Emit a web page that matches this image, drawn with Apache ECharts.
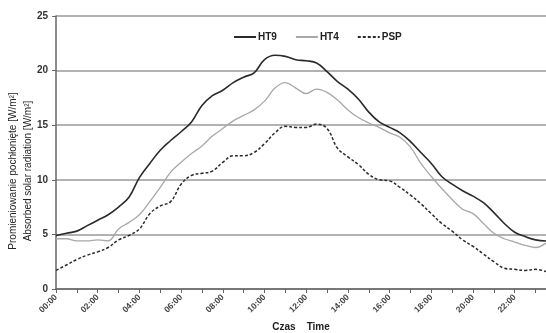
<!DOCTYPE html>
<html>
<head>
<meta charset="utf-8">
<script src="https://cdn.jsdelivr.net/npm/echarts@6/dist/echarts.min.js"></script>
<style>
  html, body { margin: 0; padding: 0; background: #fff; }
  #chart { width: 546px; height: 333px; }
</style>
</head>
<body>
<div id="chart"></div>
<script>
// half-hour steps, 00:00 .. 23:30
const times = [];
for (let i = 0; i < 48; i++) {
  const h = Math.floor(i / 2);
  times.push(String(h).padStart(2, "0") + (i % 2 ? ":30" : ":00"));
}

const ht9 = [
  4.9, 5.1, 5.3, 5.8, 6.3, 6.8, 7.5, 8.4, 10.2, 11.5, 12.7, 13.6,
  14.4, 15.3, 16.8, 17.7, 18.2, 18.9, 19.4, 19.8, 21.0, 21.4, 21.3, 21.0,
  20.9, 20.7, 19.9, 19.0, 18.3, 17.4, 16.2, 15.3, 14.8, 14.3, 13.5, 12.5,
  11.5, 10.3, 9.6, 9.0, 8.5, 7.9, 7.0, 6.0, 5.2, 4.8, 4.5, 4.4,
];
const ht4 = [
  4.6, 4.6, 4.4, 4.4, 4.5, 4.4, 5.5, 6.1, 6.8, 8.0, 9.3, 10.7,
  11.6, 12.4, 13.1, 14.0, 14.7, 15.4, 15.9, 16.4, 17.2, 18.4, 18.9, 18.4,
  17.9, 18.3, 18.0, 17.3, 16.4, 15.7, 15.2, 14.8, 14.3, 13.9, 13.0, 11.5,
  10.3, 9.2, 8.2, 7.3, 6.9, 6.0, 5.1, 4.6, 4.3, 4.0, 3.8, 4.2,
];
const psp = [
  1.7, 2.2, 2.7, 3.1, 3.4, 3.8, 4.5, 4.9, 5.5, 6.9, 7.6, 8.0,
  9.6, 10.4, 10.6, 10.8, 11.6, 12.2, 12.2, 12.5, 13.3, 14.3, 14.9, 14.8,
  14.8, 15.1, 14.7, 12.9, 12.1, 11.4, 10.5, 10.0, 9.9, 9.3, 8.6, 7.8,
  6.9, 6.0, 5.3, 4.5, 3.9, 3.2, 2.5, 1.9, 1.8, 1.7, 1.8, 1.6,
];

const yTitlePl = "Promieniowanie pochłonięte [W/m²]";
const yTitleEn = "Absorbed solar radiation [W/m²]";

const font = "'Liberation Sans', Arial, sans-serif";
const chart = echarts.init(document.getElementById("chart"));

const line = (name, data, color, width, type) => ({
  name,
  type: "line",
  data,
  smooth: 0.4,
  symbol: "none",
  lineStyle: { color, width, type },
  itemStyle: { color },
});

// vertical axis title, two lines rotated
const yTitle = (text, x) => ({
  type: "text",
  x,
  y: 171,
  rotation: Math.PI / 2,
  style: {
    text,
    font: "10px " + font,
    fill: "#222",
    align: "center",
    verticalAlign: "middle",
  },
});

chart.setOption({
  animation: false,
  textStyle: { fontFamily: font },
  grid: { left: 56, right: 0, top: 16, bottom: 44, outerBoundsMode: "none" },
  legend: {
    top: 27,
    left: 228,
    itemWidth: 22,
    itemHeight: 10,
    itemGap: 18,
    itemStyle: { opacity: 0 },
    textStyle: { fontFamily: font, fontSize: 10, fontWeight: "bold", color: "#222", padding: [0, 0, 0, -3] },
    data: ["HT9", "HT4", "PSP"],
  },
  graphic: [yTitle(yTitlePl, 13), yTitle(yTitleEn, 28)],
  xAxis: {
    type: "category",
    data: times,
    boundaryGap: false,
    name: "Czas    Time",
    nameLocation: "middle",
    nameGap: 33,
    nameTextStyle: { fontFamily: font, fontSize: 10, fontWeight: "bold", color: "#222" },
    axisLine: { lineStyle: { color: "#666", width: 1.5 } },
    axisTick: { interval: 1, length: 4, lineStyle: { color: "#666" } },
    axisLabel: {
      interval: 3,
      rotate: 45,
      fontSize: 8.5,
      fontWeight: "bold",
      color: "#444",
      margin: 7,
      fontFamily: font,
    },
  },
  yAxis: {
    type: "value",
    min: 0,
    max: 25,
    interval: 5,
    axisLine: { show: true, lineStyle: { color: "#666", width: 1.5 } },
    axisTick: { show: true, length: 4, lineStyle: { color: "#666" } },
    axisLabel: { fontSize: 10, fontWeight: "bold", color: "#333", margin: 8, fontFamily: font },
    splitLine: { lineStyle: { color: "#999", width: 1.5 } },
  },
  series: [
    line("HT9", ht9, "#2a2a2a", 1.6, "solid"),
    line("HT4", ht4, "#a8a8a8", 1.3, "solid"),
    line("PSP", psp, "#2a2a2a", 1.5, [3, 2]),
  ],
});
</script>
</body>
</html>
